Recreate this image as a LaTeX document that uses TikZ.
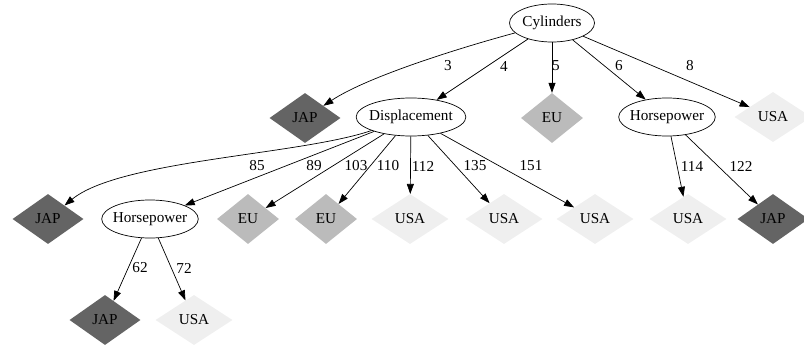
\documentclass[tikz,border=0pt]{standalone}
\usepackage{fontspec}
\setmainfont{Liberation Serif}
\usetikzlibrary{shapes.geometric,arrows.meta}

\definecolor{japgray}{HTML}{646464}
\definecolor{eugray}{HTML}{BBBBBB}
\definecolor{usagray}{HTML}{EFEFEF}

\begin{document}
\begin{tikzpicture}[x=1pt,y=-1pt,font=\fontsize{15.2}{18}\selectfont]
%define
\tikzstyle{attr} = [ellipse, draw=black, line width=0.7pt, inner xsep=-3pt, inner ysep=0pt, minimum width=85pt, minimum height=38pt]
\tikzstyle{leaf_jap} = [diamond, fill=japgray, inner sep=0pt, minimum width=71pt, minimum height=50pt]
\tikzstyle{leaf_eu} = [diamond, fill=eugray, inner sep=0pt, minimum width=62pt, minimum height=50pt]
\tikzstyle{leaf_usa} = [diamond, fill=usagray, inner sep=0pt, minimum width=77pt, minimum height=50pt]
\tikzstyle{arrow} = [-{Triangle[length=10pt,width=7pt]}, line width=0.7pt]
\tikzstyle{lbl} = [inner sep=0pt]

\useasboundingbox (0,0) rectangle (804,348);

%level 0
\node[attr](node_Cyl) at (552,23){Cylinders};
%level 1
\node[leaf_jap](leaf_Jap1) at (305,118){JAP};
\node[attr](node_Disp) at (411,117){Displacement};
\node[leaf_eu](leaf_Eu1) at (552,118){EU};
\node[attr](node_HpR) at (667,117){Horsepower};
\node[leaf_usa](leaf_Usa1) at (773,117){USA};
%level 2
\node[leaf_jap](leaf_Jap2) at (48,219){JAP};
\node[attr](node_HpL) at (150,219){Horsepower};
\node[leaf_eu](leaf_Eu2) at (248,219){EU};
\node[leaf_eu](leaf_Eu3) at (326,219){EU};
\node[leaf_usa](leaf_Usa2) at (410,219){USA};
\node[leaf_usa](leaf_Usa3) at (504,219){USA};
\node[leaf_usa](leaf_Usa4) at (595,219){USA};
\node[leaf_usa](leaf_Usa5) at (688,219){USA};
\node[leaf_jap](leaf_Jap3) at (773,219){JAP};
%level 3
\node[leaf_jap](leaf_Jap4) at (105,320){JAP};
\node[leaf_usa](leaf_Usa6) at (194,320){USA};

%line
\draw[arrow](node_Cyl) .. controls (470,45) and (370,75) .. (leaf_Jap1);
\draw[arrow](node_Cyl)--(node_Disp);
\draw[arrow](node_Cyl)--(leaf_Eu1);
\draw[arrow](node_Cyl)--(node_HpR);
\draw[arrow](node_Cyl)--(leaf_Usa1);
\draw[arrow](node_Disp) .. controls (300,155) and (120,160) .. (leaf_Jap2);
\draw[arrow](node_Disp)--(node_HpL);
\draw[arrow](node_Disp)--(leaf_Eu2);
\draw[arrow](node_Disp)--(leaf_Eu3);
\draw[arrow](node_Disp)--(leaf_Usa2);
\draw[arrow](node_Disp)--(leaf_Usa3);
\draw[arrow](node_Disp)--(leaf_Usa4);
\draw[arrow](node_HpR)--(leaf_Usa5);
\draw[arrow](node_HpR)--(leaf_Jap3);
\draw[arrow](node_HpL)--(leaf_Jap4);
\draw[arrow](node_HpL)--(leaf_Usa6);

%labels
\node[lbl](lbl_c3) at (448,66){3};
\node[lbl](lbl_c4) at (504,66){4};
\node[lbl](lbl_c5) at (556,66){5};
\node[lbl](lbl_c6) at (619,66){6};
\node[lbl](lbl_c8) at (690,66){8};
\node[lbl](lbl_d85) at (257,166){85};
\node[lbl](lbl_d89) at (314,166){89};
\node[lbl](lbl_d103) at (356,166){103};
\node[lbl](lbl_d110) at (388,166){110};
\node[lbl](lbl_d112) at (423,166){112};
\node[lbl](lbl_d135) at (475,166){135};
\node[lbl](lbl_d151) at (531,166){151};
\node[lbl](lbl_h114) at (692,166){114};
\node[lbl](lbl_h122) at (741,166){122};
\node[lbl](lbl_h62) at (140,268){62};
\node[lbl](lbl_h72) at (184,268){72};

\end{tikzpicture}
\end{document}
